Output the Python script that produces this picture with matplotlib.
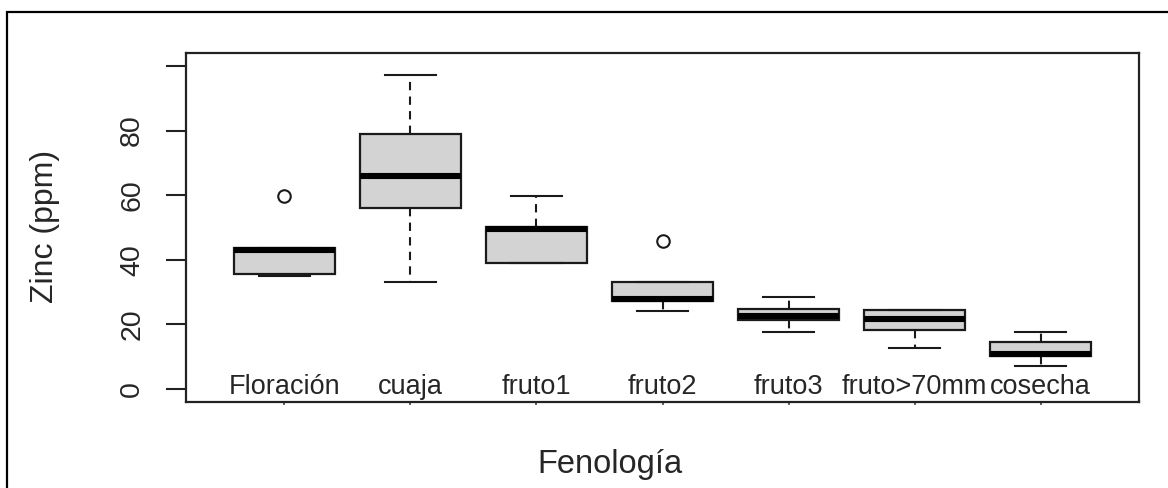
import numpy as np
import matplotlib
matplotlib.use("Agg")
import matplotlib.pyplot as plt
from matplotlib.patches import Rectangle

plt.rcParams['font.family'] = ['Liberation Sans', 'DejaVu Sans']

# box statistics (Zinc, ppm)
categories = ['Floración', 'cuaja', 'fruto1', 'fruto2', 'fruto3', 'fruto>70mm', 'cosecha']
whis_lo = [35.0, 33.2, 38.9, 24.3, 17.8, 12.7, 7.0]
q1 = [35.5, 56.0, 38.9, 27.2, 21.4, 18.3, 10.1]
medians = [43.1, 66.0, 49.4, 27.9, 22.6, 21.7, 10.7]
q3 = [43.8, 78.8, 50.1, 33.1, 24.8, 24.6, 14.5]
whis_hi = [43.8, 97.3, 59.8, 33.1, 28.5, 24.6, 17.8]
outliers = [[59.8], [], [], [45.8], [], [], []]

ytick_vals = [0, 20, 40, 60, 80, 100]
ytick_labels = ['0', '20', '40', '60', '80', '']

text_col = '#262626'
W, H = 1168, 488

fig = plt.figure(figsize=(W / 100, H / 100), dpi=100)
ax = fig.add_axes([186 / W, 1 - 402 / H, (1139 - 186) / W, (402 - 53) / H])

stats = []
for i in range(len(categories)):
    stats.append({'whislo': whis_lo[i], 'q1': q1[i], 'med': medians[i],
                  'q3': q3[i], 'whishi': whis_hi[i], 'fliers': outliers[i]})

pos = np.arange(1, len(categories) + 1)
ax.bxp(stats, positions=pos, widths=0.8, capwidths=0.4, patch_artist=True,
       boxprops=dict(facecolor='#d3d3d3', edgecolor='#1a1a1a', linewidth=1.6),
       medianprops=dict(color='black', linewidth=4.4, solid_capstyle='butt'),
       whiskerprops=dict(color='#1a1a1a', linewidth=1.5, linestyle=(0, (4, 3))),
       capprops=dict(color='#1a1a1a', linewidth=1.5),
       flierprops=dict(marker='o', markerfacecolor='white', markeredgecolor='#1a1a1a',
                       markersize=9, markeredgewidth=1.5))

ax.set_xlim(0.22, 7.78)
ax.set_ylim(-4, 104)

ax.set_xticks(pos, [''] * len(pos))
ax.tick_params(axis='x', length=2, width=1.2, color='#444444')
for i, name in enumerate(categories):
    ax.text(pos[i], -1.6, name, ha='center', va='baseline', fontsize=19.5, color=text_col)

ax.set_yticks(ytick_vals, ytick_labels)
ax.tick_params(axis='y', length=14.4, width=1.5, pad=15, labelsize=20.5,
               labelcolor=text_col, color='#222222')
for lab in ax.get_yticklabels():
    lab.set_rotation(90)
    lab.set_va('center')

for s in ax.spines.values():
    s.set_linewidth(1.6)
    s.set_color('#222222')

fig.text(45 / W, 1 - 226.5 / H, 'Zinc (ppm)', rotation=90, ha='center', va='center',
         fontsize=23, color=text_col)
fig.text(610 / W, 1 - 473 / H, 'Fenología', ha='center', va='baseline',
         fontsize=23.5, color=text_col)

# outer frame of the screenshot
fig.add_artist(Rectangle((7 / W, -0.5), 2, 1.5 - 12 / H, fill=False, lw=1.6,
                         edgecolor='black', transform=fig.transFigure, clip_on=False))

fig.savefig('out.png', dpi=100)
